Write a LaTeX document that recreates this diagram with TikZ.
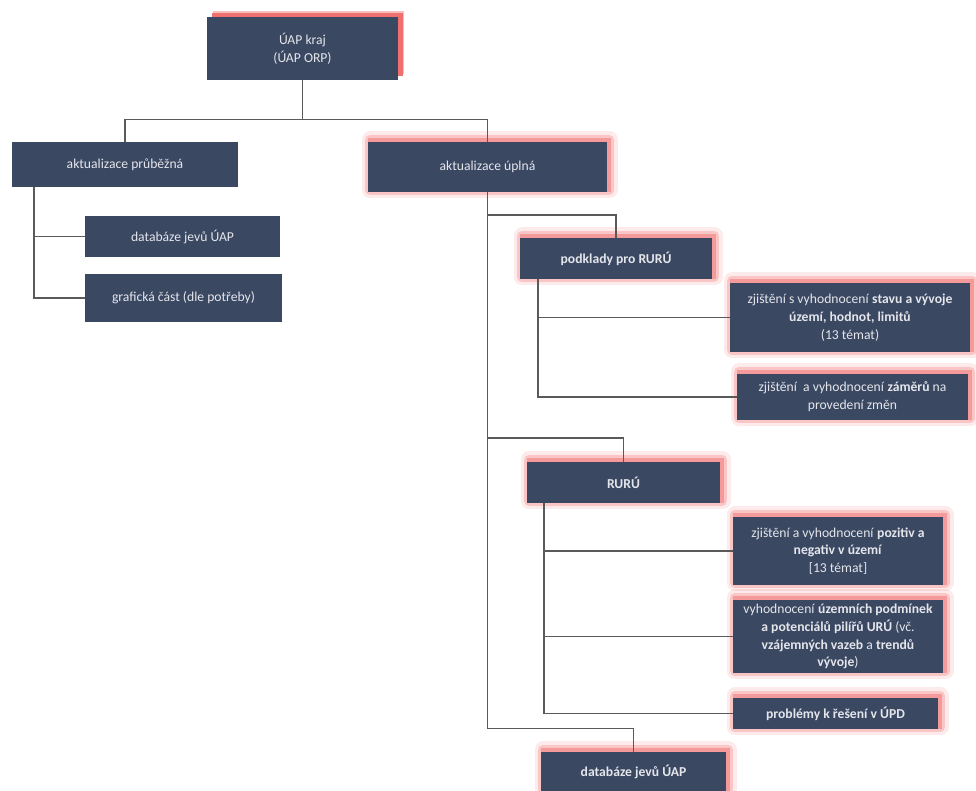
\documentclass[tikz,border=0pt]{standalone}
\usepackage{fontspec}
\setmainfont{Carlito}
\usetikzlibrary{positioning, calc}

\definecolor{boxblue}{HTML}{3B4862}
\definecolor{boxtext}{HTML}{E4E6EC}
\definecolor{glowred}{HTML}{F07070}
\definecolor{linegray}{HTML}{5A5A5A}

\begin{document}
\begin{tikzpicture}[x=0.025cm, y=-0.025cm,
    box/.style={rectangle, fill=boxblue, text=boxtext, align=center, inner sep=2pt, font=\fontsize{9.7}{12.6}\selectfont},
    glowbox/.style={box,
        preaction={draw=glowred, draw opacity=0.15, line width=12pt, line join=round, transform canvas={shift={(1.5pt,1.5pt)}}},
        preaction={draw=glowred, draw opacity=0.3, line width=7pt, line join=round, transform canvas={shift={(1.5pt,1.5pt)}}},
        preaction={draw=glowred, draw opacity=0.5, line width=3pt, transform canvas={shift={(1.5pt,1.5pt)}}}},
    topbox/.style={box,
        preaction={fill=glowred!45, transform canvas={shift={(4.5pt,4pt)}}},
        preaction={fill=glowred, transform canvas={shift={(3.5pt,3pt)}}}},
    link/.style={draw=linegray, line width=0.8pt}]
    \useasboundingbox (0,0) rectangle (976,791);

    % Nodes
    \node (uap) [topbox, minimum width=4.78cm, minimum height=1.58cm] at (302.5,48.5) {ÚAP kraj\\(ÚAP ORP)};
    \node (prub) [box, minimum width=5.65cm, minimum height=1.13cm] at (125,164.5) {aktualizace průběžná};
    \node (upl) [glowbox, minimum width=5.98cm, minimum height=1.25cm] at (487.5,167) {aktualizace úplná};
    \node (dbleft) [box, minimum width=4.88cm, minimum height=1.03cm] at (182.5,236.5) {databáze jevů ÚAP};
    \node (graf) [box, minimum width=4.93cm, minimum height=1.2cm] at (183.5,298) {grafická část (dle potřeby)};

    \node (podk) [glowbox, minimum width=4.8cm, minimum height=1.03cm] at (616,258.5) {\bfseries podklady pro RURÚ};
    \node (stav) [glowbox, minimum width=6cm, minimum height=1.73cm] at (850,317.5) {zjištění s vyhodnocení \textbf{stavu a vývoje}\\\textbf{území, hodnot, limitů}\\(13 témat)};
    \node (zam) [glowbox, minimum width=5.78cm, minimum height=1.15cm] at (852.5,397) {zjištění \ a vyhodnocení \textbf{záměrů} na\\provedení změn};

    \node (ruru) [glowbox, minimum width=4.83cm, minimum height=1.03cm] at (623.5,482.5) {\bfseries RURÚ};
    \node (poz) [glowbox, minimum width=5.25cm, minimum height=1.7cm] at (838,551) {zjištění a vyhodnocení \textbf{pozitiv a}\\\textbf{negativ v území}\\{}[13 témat]};
    \node (podm) [glowbox, minimum width=5.25cm, minimum height=1.83cm] at (838,636.5) {vyhodnocení \textbf{územních podmínek}\\\textbf{a potenciálů pilířů URÚ} (vč.\\\textbf{vzájemných vazeb} a \textbf{trendů}\\\textbf{vývoje})};
    \node (prob) [glowbox, minimum width=5.13cm, minimum height=0.78cm] at (835.5,713.5) {\bfseries problémy k řešení v ÚPD};
    \node (dbbot) [glowbox, minimum width=4.63cm, minimum height=0.98cm] at (633.5,771.5) {\bfseries databáze jevů ÚAP};

    \coordinate (lefttrunk) at (34,187);
    \coordinate (podktrunk) at (538,279);
    \coordinate (rurutrunk) at (544,503);

    % Lines
    \draw[link] (uap.south) -- ++(0,40);
    \draw[link] (prub.north) -- ++(0,-22) -| (upl.north);
    \draw[link] (lefttrunk) |- (graf.west);
    \draw[link] (lefttrunk |- dbleft.west) -- (dbleft.west);
    \draw[link] (upl.south) -- ++(0,536) -| (dbbot.north);
    \draw[link] (upl.south |- 0,215) -| (podk.north);
    \draw[link] (upl.south |- 0,438) -| (ruru.north);
    \draw[link] (podktrunk) |- (zam.west);
    \draw[link] (podktrunk |- stav.west) -- (stav.west);
    \draw[link] (rurutrunk) |- (prob.west);
    \draw[link] (rurutrunk |- poz.west) -- (poz.west);
    \draw[link] (rurutrunk |- podm.west) -- (podm.west);
\end{tikzpicture}
\end{document}
